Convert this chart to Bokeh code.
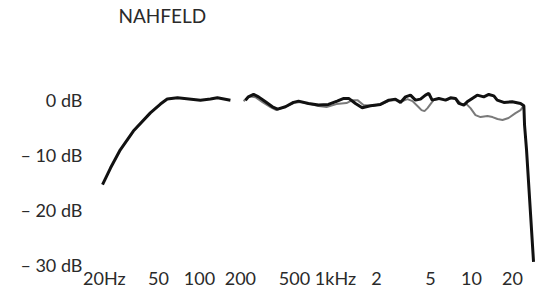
from bokeh.plotting import figure
from bokeh.models import FixedTicker, Label
from bokeh.embed import file_html
from bokeh.resources import INLINE

title_text = "NAHFELD"
x_ticks = [20, 50, 100, 200, 500, 1000, 2000, 5000, 10000, 20000]
x_tick_labels = ["20Hz", "50", "100", "200", "500", "1kHz", "2", "5", "10", "20"]
y_ticks = [0, -10, -20, -30]
y_tick_labels = ["0 dB", "– 10 dB", "– 20 dB", "– 30 dB"]

# low-frequency segment (single trace)
bass_freq = [19.4, 22.2, 26.2, 32.7, 43.6, 51.7, 58, 69, 101.7, 120.5, 135.6, 169]
bass_db = [-15.4, -12.4, -9.1, -5.7, -2.4, -0.8, 0.1, 0.33, -0.1, 0.1, 0.33, -0.1]

# main trace (black) above 200 Hz
main_freq = [218, 229, 250, 272, 306, 344, 375, 429, 491, 535, 633, 750, 888,
             1029, 1151, 1252, 1403, 1572, 1808, 2142, 2466, 2762, 3006, 3272,
             3560, 3874, 4217, 4590, 4853, 5140, 5750, 6440, 7010, 7630, 8070,
             8780, 9300, 10120, 11010, 12310, 13400, 14590, 15450, 17280, 19920,
             22920, 24260, 24540, 25380, 28570]
main_db = [-0.09, 0.5, 0.94, 0.5, -0.4, -1.3, -1.72, -1.3, -0.5, -0.27, -0.69,
           -0.99, -0.87, -0.27, 0.22, 0.22, -0.69, -1.48, -1.12, -0.87, -0.09,
           0.09, -0.5, 0.5, 0.81, -0.09, 0.09, 0.81, 1.12, -0.09, 0.22, -0.09,
           0.33, 0.22, -0.69, -0.99, -0.4, 0.22, 0.81, 0.5, 0.94, 0.69, -0.09,
           -0.5, -0.4, -0.69, -1.12, -4.6, -9.1, -29.4]

# second trace (grey)
alt_freq = [211, 233, 258, 291, 333, 368, 422, 491, 553, 655, 750, 859, 1017,
            1205, 1334, 1451, 1607, 1871, 2179, 2453, 2762, 3109, 3383, 3683,
            4076, 4290, 4512, 4748, 4995, 5255, 5917, 6551, 7128, 7758, 8444,
            9188, 9830, 10700, 11650, 13110, 14270, 15530, 16900, 18720, 21060,
            22920, 24120]
alt_db = [-0.27, 0.63, 0.45, -0.45, -1.35, -1.9, -1.35, -0.63, -0.45, -0.81,
          -1.17, -1.35, -0.81, -0.63, -0.09, -0.09, -0.99, -1.17, -0.81, -0.27,
          -0.09, -0.27, 0.09, -0.27, -1.35, -1.9, -2.08, -1.54, -0.81, -0.09,
          0.09, -0.09, 0.27, 0.09, -0.81, -0.81, -1.54, -2.8, -3.16, -2.98,
          -3.16, -3.52, -3.7, -3.34, -2.44, -1.9, -1.17]

FONT = "Lato"
TEXT = "#2a2a2a"

p = figure(width=544, height=291, x_axis_type="log",
           x_range=(15.3, 34400), y_range=(-30.25, 17.97),
           output_backend="svg", toolbar_location=None, title=None,
           min_border_left=88, min_border_right=0,
           min_border_top=0, min_border_bottom=0)
p.outline_line_color = None
p.grid.visible = False
p.background_fill_color = "white"
p.border_fill_color = "white"

xa = p.xaxis[0]
xa.ticker = FixedTicker(ticks=x_ticks, minor_ticks=[])
xa.major_label_overrides = dict(zip(x_ticks, x_tick_labels))
ya = p.yaxis[0]
ya.ticker = FixedTicker(ticks=y_ticks, minor_ticks=[])
ya.major_label_overrides = dict(zip(y_ticks, y_tick_labels))
for ax in (xa, ya):
    ax.axis_line_color = None
    ax.major_tick_line_color = None
    ax.minor_tick_line_color = None
    ax.major_tick_out = 0
    ax.major_tick_in = 0
    ax.minor_tick_out = 0
    ax.major_label_text_font = FONT
    ax.major_label_text_font_size = "18px"
    ax.major_label_text_color = TEXT
xa.major_label_standoff = 0
ya.major_label_standoff = 6

p.line(alt_freq, alt_db, line_color="#7a7a7a", line_width=2)
p.line(bass_freq, bass_db, line_color="#111111", line_width=3)
p.line(main_freq, main_db, line_color="#111111", line_width=3)

p.add_layout(Label(x=25.4, y=15.3, text=title_text, text_font=FONT,
                   text_font_size="19px", text_color=TEXT,
                   text_baseline="middle", text_align="left"))

open("out.html", "w").write(file_html(p, INLINE))
